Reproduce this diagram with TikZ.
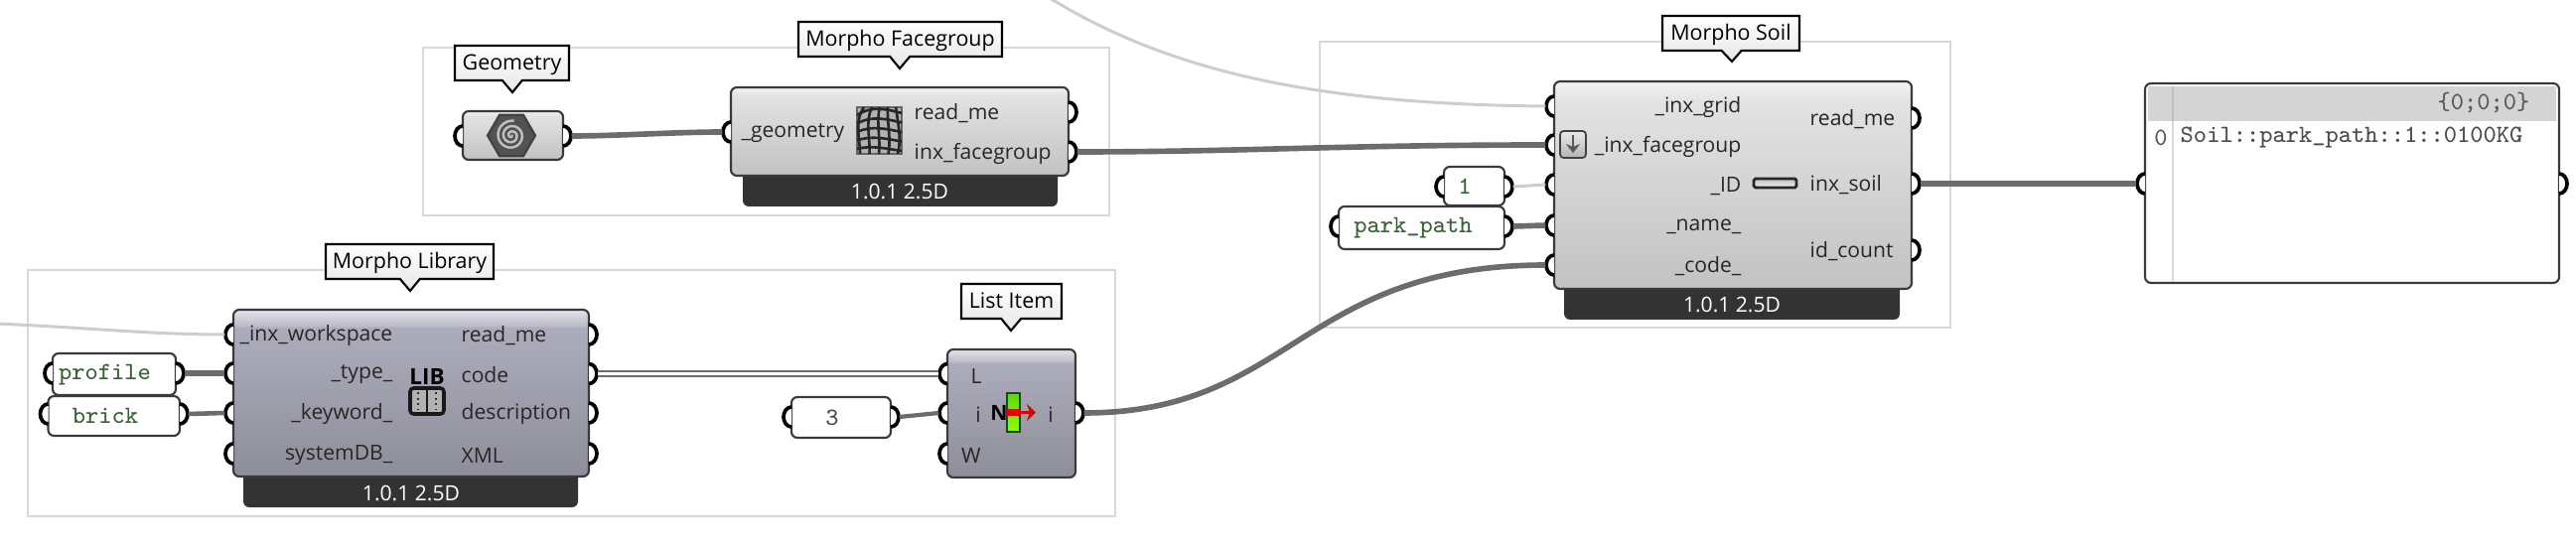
\documentclass[tikz,border=0pt]{standalone}
\usepackage{fontspec}
\usepackage{xcolor}
\setmainfont{Open Sans}
\usetikzlibrary{shapes.geometric, shapes.callouts, arrows.meta, positioning}
\definecolor{gbwire}{RGB}{108,108,108}
\definecolor{gbpale}{RGB}{205,205,205}
\definecolor{gbedge}{RGB}{58,58,58}
\definecolor{gbfoot}{RGB}{51,51,51}
\definecolor{gbgroup}{RGB}{216,216,216}
\definecolor{gbtext}{RGB}{58,96,58}
\definecolor{ltop}{RGB}{228,228,234}
\definecolor{lband}{RGB}{186,186,198}
\definecolor{lbody}{RGB}{172,172,188}
\definecolor{lbot}{RGB}{142,142,154}
\definecolor{gtop}{RGB}{242,242,242}
\definecolor{gband}{RGB}{226,226,226}
\definecolor{gbody}{RGB}{226,226,226}
\definecolor{gbot}{RGB}{194,194,194}
\pgfdeclareverticalshading{lilacbody}{100bp}{color(0bp)=(lbot); color(25bp)=(lbot); color(69.9bp)=(lbody); color(70bp)=(lband); color(75bp)=(ltop); color(100bp)=(ltop)}
\pgfdeclareverticalshading{greybody}{100bp}{color(0bp)=(gbot); color(25bp)=(gbot); color(69.9bp)=(gbody); color(70bp)=(gband); color(75bp)=(gtop); color(100bp)=(gtop)}
\newcommand{\pxu}{0.01cm}
\newcommand{\inport}[2]{%
  \node[portnode] (#1) at (#2) {};
  \draw[portline] (#1.center) ++(0,10) arc[start angle=90,end angle=270,x radius=8,y radius=10];}
\newcommand{\outport}[2]{%
  \node[portnode] (#1) at (#2) {};
  \draw[portline] (#1.center) ++(0,-10) arc[start angle=-90,end angle=90,x radius=8,y radius=10];}
\tikzset{
  portnode/.style={inner sep=0,minimum width=16*\pxu,minimum height=20*\pxu},
  portline/.style={line width=1.05pt,black,fill=white},
  groupbox/.style={draw=gbgroup,line width=0.7pt,fill=white,inner sep=0},
  comp/.style={draw=gbedge,line width=0.6pt,rounded corners=1.7pt,shade,inner sep=0},
  footbar/.style={fill=gbfoot,rounded corners=1.7pt,inner sep=0,minimum height=62*\pxu},
  foottext/.style={text=white,font=\fontsize{6}{7}\selectfont,inner sep=0},
  panel/.style={draw=gbedge,line width=0.6pt,rounded corners=1.7pt,fill=white,inner sep=0},
  monotext/.style={font=\fontsize{7.1}{8}\selectfont\ttfamily,inner sep=0,yshift=-1.5*\pxu},
  plabel/.style={font=\fontsize{6}{7}\selectfont,inner sep=0,text=black!85,yshift=-1.5*\pxu},
  lefttext/.style={plabel,anchor=east},
  righttext/.style={plabel,anchor=west},
  balloon/.style={rectangle callout,draw=black,line width=0.6pt,top color=white,bottom color=black!10,
    font=\fontsize{6.1}{7}\selectfont,inner sep=0,text height=5.4pt,text depth=1.3pt,minimum height=35*\pxu,callout pointer width=20*\pxu},
  wire/.style={draw=gbwire,line width=1.6pt},
  palewire/.style={draw=gbpale,line width=0.85pt},
}
\begin{document}
\begin{tikzpicture}[x=0.01cm,y=-0.01cm]
\clip (0,0) rectangle (2594,546);

% Groups
\node[groupbox,minimum width=691*\pxu,minimum height=169*\pxu] (groupface) at (771.5,132.5) {};
\node[groupbox,minimum width=1095*\pxu,minimum height=248*\pxu] (grouplib) at (575.5,396) {};
\node[groupbox,minimum width=635*\pxu,minimum height=288*\pxu] (groupsoil) at (1646.5,186) {};

% Geometry
\node[comp,shading=greybody,minimum width=101*\pxu,minimum height=49*\pxu] (geo) at (516.5,136.5) {};
\node[regular polygon,regular polygon sides=6,draw=black!75,line width=0.6pt,fill=black!68,inner sep=0,minimum size=48*\pxu] (geoicon) at (515,136.5) {};
\draw[black!25,line width=0.7pt,domain=0:1000,samples=70,smooth,variable=\t] plot ({515+\t/1000*15*cos(\t)},{136.5+\t/1000*15*sin(\t)});
\inport{geo_in}{466,137}
\outport{geo_out}{567,137}

% Morpho Facegroup
\node[footbar,minimum width=317*\pxu] (facefoot) at (906.5,177) {};
\node[foottext] (facever) at (906,193.5) {1.0.1 2.5D};
\node[comp,shading=greybody,minimum width=340*\pxu,minimum height=89*\pxu] (face) at (906,132.5) {};
\node[lefttext] (face_geom) at (851,133) {\_geometry};
\node[righttext] (face_read) at (920,113) {read\_me};
\node[righttext] (face_inx) at (920,153) {inx\_facegroup};
\node[draw=black!60,fill=black!30,line width=0.3pt,inner sep=0,minimum width=45*\pxu,minimum height=47*\pxu] (faceicon) at (885.5,131.5) {};
\foreach \i in {0,1,2,3,4}
  \draw[black!85,line width=0.75pt] (870+\i*8,108) .. controls (860+\i*11,122) and (866+\i*10.5,140) .. (866+\i*9.5,155);
\foreach \i in {0,1,2,3,4}
  \draw[black!85,line width=0.75pt] (863,116+\i*8.5) .. controls (878,106+\i*10) and (893,110+\i*10) .. (908,114+\i*9.5);
\inport{face_geom_in}{736,133}
\outport{face_read_out}{1076,113}
\outport{face_inx_out}{1076,153}

% Morpho Library
\node[footbar,minimum width=337*\pxu] (libfoot) at (413.5,480) {};
\node[foottext] (libver) at (414,497) {1.0.1 2.5D};
\node[comp,shading=lilacbody,minimum width=358*\pxu,minimum height=168*\pxu] (lib) at (414,396) {};
\node[lefttext] (lib_work) at (396,337) {\_inx\_workspace};
\node[lefttext] (lib_type) at (396,376) {\_type\_};
\node[lefttext] (lib_key) at (396,416) {\_keyword\_};
\node[lefttext] (lib_sys) at (396,457) {systemDB\_};
\node[righttext] (lib_read) at (464,337) {read\_me};
\node[righttext] (lib_code) at (464,376) {code};
\node[righttext] (lib_desc) at (464,416) {description};
\node[righttext] (lib_xml) at (464,457) {XML};
\node[font=\fontsize{6.4}{7}\selectfont\rmfamily\bfseries,inner sep=0] (libicon) at (430,379) {LIB};
\node[draw=black!90,line width=1pt,rounded corners=1pt,fill=black!30,inner sep=0,minimum width=34*\pxu,minimum height=26*\pxu] (libbook) at (430,404) {};
\draw[black!90,line width=0.6pt] (libbook.north) -- (libbook.south);
\foreach \i in {421,439}
  \draw[black!80,line width=0.6pt,densely dotted] (\i,395) -- (\i,413);
\inport{lib_work_in}{235,337}
\inport{lib_type_in}{235,376}
\inport{lib_key_in}{235,416}
\inport{lib_sys_in}{235,457}
\outport{lib_read_out}{593,337}
\outport{lib_code_out}{593,376.5}
\outport{lib_desc_out}{593,416}
\outport{lib_xml_out}{593,457}

% Library inputs
\node[panel,minimum width=124*\pxu,minimum height=42*\pxu] (profile) at (115,377) {};
\node[monotext,text=gbtext] (profiletext) at (105.5,376) {profile};
\inport{profile_in}{53,376}
\outport{profile_out}{177,376}
\node[panel,minimum width=132.5*\pxu,minimum height=40*\pxu] (brick) at (114.75,419) {};
\node[monotext,text=gbtext] (bricktext) at (106,417) {brick};
\inport{brick_in}{48.5,417}
\outport{brick_out}{181,417}

% List Item
\node[comp,shading=lilacbody,minimum width=129*\pxu,minimum height=129*\pxu] (item) at (1018.5,416.5) {};
\node[plabel] (item_l) at (983,377) {L};
\node[plabel] (item_i) at (985,416) {i};
\node[plabel] (item_w) at (978,457) {W};
\node[plabel] (item_o) at (1058,416) {i};
\node[font=\fontsize{6}{7}\selectfont\bfseries,inner sep=0] (itemn) at (1006,416) {N};
\node[draw=green!35!black,line width=0.4pt,top color=green!55!yellow!85!black,bottom color=green!45!yellow,inner sep=0,minimum width=13*\pxu,minimum height=39*\pxu] (itembar) at (1020.5,415.5) {};
\node[fill=red!90!black,inner sep=0,minimum width=13*\pxu,minimum height=7*\pxu] (itemband) at (1020.5,415.5) {};
\draw[-{Stealth[length=9*\pxu,width=17*\pxu]},red!85!black,line width=0.9pt] (itemband.east) -- (1043,415.5);
\inport{item_l_in}{954,376.5}
\inport{item_i_in}{954,416}
\inport{item_w_in}{954,457}
\outport{item_out}{1083,416}

% Number for the index
\node[panel,minimum width=100*\pxu,minimum height=41*\pxu] (three) at (847,420.5) {};
\node[monotext,text=black!70] (threetext) at (838,419) {3};
\inport{three_in}{797,420}
\outport{three_out}{897,420}

% Morpho Soil
\node[footbar,minimum width=338*\pxu] (soilfoot) at (1744,291) {};
\node[foottext] (soilver) at (1744,307) {1.0.1 2.5D};
\node[comp,shading=greybody,minimum width=360*\pxu,minimum height=209*\pxu] (soil) at (1745,186.5) {};
\node[lefttext] (soil_grid) at (1754,107) {\_inx\_grid};
\node[lefttext] (soil_face) at (1754,146) {\_inx\_facegroup};
\node[lefttext] (soil_id) at (1754,186) {\_ID};
\node[lefttext] (soil_name) at (1754,227) {\_name\_};
\node[lefttext] (soil_code) at (1754,267) {\_code\_};
\node[righttext] (soil_read) at (1822,119) {read\_me};
\node[righttext] (soil_inx) at (1822,185) {inx\_soil};
\node[righttext] (soil_count) at (1822,252) {id\_count};
\node[draw=black!75,line width=0.5pt,rounded corners=1pt,top color=black!8,bottom color=black!30,inner sep=0,minimum width=26*\pxu,minimum height=27*\pxu] (soilbtn) at (1584,145.5) {};
\draw[-{Stealth[length=9*\pxu,width=14*\pxu]},black!65,line width=0.8pt] (soilbtn.north) ++(0,5) -- ++(0,18);
\node[draw=black!85,line width=0.8pt,rounded corners=0.5pt,top color=black!25,bottom color=black!5,inner sep=0,minimum width=43*\pxu,minimum height=9*\pxu] (soilicon) at (1787.5,184.5) {};
\inport{soil_grid_in}{1565,107}
\inport{soil_face_in}{1565,146}
\inport{soil_id_in}{1565,186}
\inport{soil_name_in}{1565,227}
\inport{soil_code_in}{1565,267}
\outport{soil_read_out}{1925,119}
\outport{soil_inx_out}{1925,185}
\outport{soil_count_out}{1925,252}

% Soil inputs
\node[panel,minimum width=61*\pxu,minimum height=39*\pxu] (one) at (1484.5,187.5) {};
\node[monotext,text=gbtext] (onetext) at (1475,186) {1};
\inport{one_in}{1454,188}
\outport{one_out}{1515,188}
\node[panel,minimum width=167*\pxu,minimum height=43*\pxu] (park) at (1431.5,229.5) {};
\node[monotext,text=gbtext] (parktext) at (1423,228) {park\_path};
\inport{park_in}{1348,228}
\outport{park_out}{1515,228}

% Panel with the result
\node[panel,minimum width=417*\pxu,minimum height=201*\pxu] (result) at (2368.5,184.5) {};
\node[fill=black!17,inner sep=0,minimum width=411*\pxu,minimum height=35*\pxu] (resulthead) at (2368.5,104.5) {};
\draw[black!15,line width=0.5pt] (2188,122) -- (2188,284);
\draw[black!25,line width=0.5pt] (2188,87) -- (2188,122);
\node[monotext,text=black!65,anchor=east] (resultpath) at (2548,102) {\{0;0;0\}};
\node[monotext,text=black!65] (resultidx) at (2176,137) {0};
\node[monotext,text=black!70,anchor=west] (resulttext) at (2195,137) {Soil::park\_path::1::0100KG};
\inport{result_in}{2160,185}
\outport{result_out}{2577,185}

% Balloons
\node[balloon,minimum width=115*\pxu,callout absolute pointer={(516,93)}] (geotag) at (515.5,63.5) {Geometry};
\node[balloon,minimum width=205*\pxu,callout absolute pointer={(906,69)}] (facetag) at (906.5,39.5) {Morpho Facegroup};
\node[balloon,minimum width=169*\pxu,callout absolute pointer={(413,293)}] (libtag) at (412.5,263.5) {Morpho Library};
\node[balloon,minimum width=101*\pxu,callout absolute pointer={(1018,333)}] (itemtag) at (1018.5,303.5) {List Item};
\node[balloon,minimum width=138*\pxu,callout absolute pointer={(1744,62)}] (soiltag) at (1743,33.5) {Morpho Soil};

% Wires
\coordinate (workfree) at (-5,326);
\coordinate (gridfree) at (1057,-2);
\draw[palewire] (workfree) .. controls (90,330) and (150,337) .. (lib_work_in.west);
\draw[palewire] (gridfree) .. controls (1190,80) and (1350,105) .. (soil_grid_in.west);
\draw[wire] (geo_out.east) .. controls (620,137) and (680,133) .. (face_geom_in.west);
\draw[wire] (face_inx_out.east) .. controls (1250,153) and (1350,146) .. (soil_face_in.west);
\draw[wire] (profile_out.east) -- (lib_type_in.west);
\draw[wire,line width=1.3pt] (brick_out.east) -- (lib_key_in.west);
\draw[draw=gbwire,line width=0.8pt,double=white,double distance=0.6pt] (lib_code_out.east) -- (item_l_in.west);
\draw[wire,line width=1.2pt] (three_out.east) -- (item_i_in.west);
\draw[wire] (item_out.east) .. controls (1300,416) and (1310,267) .. (soil_code_in.west);
\draw[palewire] (one_out.east) -- (soil_id_in.west);
\draw[wire] (park_out.east) -- (soil_name_in.west);
\draw[wire] (soil_inx_out.east) -- (result_in.west);
\end{tikzpicture}
\end{document}
